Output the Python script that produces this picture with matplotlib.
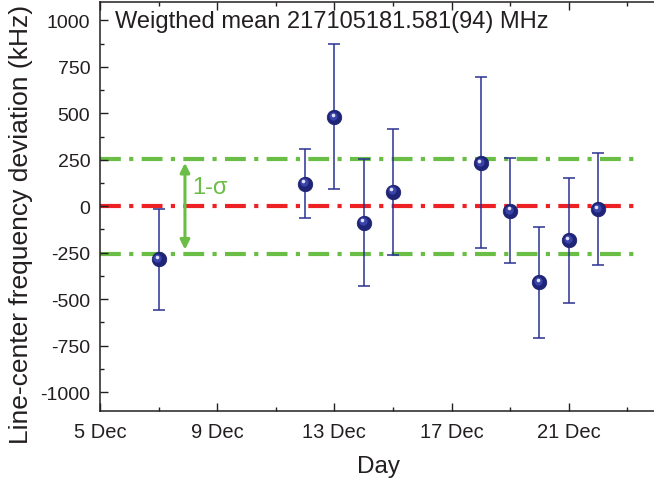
import matplotlib
matplotlib.use('Agg')
import matplotlib.pyplot as plt
from matplotlib.transforms import offset_copy

plt.rcParams['font.family'] = ['Liberation Sans', 'DejaVu Sans']
plt.rcParams['axes.unicode_minus'] = False

# measurement days (December) and deviation from weighted mean (kHz)
days = [7, 12, 13, 14, 15, 18, 19, 20, 21, 22]
deviation = [-285, 122, 481, -88, 79, 233, -24, -410, -183, -14]
uncertainty = [272, 188, 390, 340, 339, 460, 281, 300, 336, 302]

mean_value = 0
sigma = 256

major_days = [5, 9, 13, 17, 21]
major_labels = ['5 Dec', '9 Dec', '13 Dec', '17 Dec', '21 Dec']
minor_days = [7, 11, 15, 19, 23]
y_ticks = [-1000, -750, -500, -250, 0, 250, 500, 750, 1000]

title_text = 'Weigthed mean 217105181.581(94) MHz'

navy = '#2b3192'
green = '#6abd45'
red = '#ed2024'
ink = '#231f20'

fig = plt.figure(figsize=(6.54, 4.85), dpi=100)
ax = fig.add_axes([0.1529, 0.1511, 0.8512, 0.8433])

# reference lines
ax.axhline(mean_value + sigma, xmin=0, xmax=0.97, color=green, lw=3,
           dashes=(5, 2, 1, 2), zorder=1)
ax.axhline(mean_value - sigma, xmin=0, xmax=0.97, color=green, lw=3,
           dashes=(5, 2, 1, 2), zorder=1)
ax.axhline(mean_value, xmin=0, xmax=0.97, color=red, lw=3,
           dashes=(5, 2, 1, 2), zorder=1)

# data with error bars
ax.errorbar(days, deviation, yerr=uncertainty, fmt='none', ecolor=navy,
            elinewidth=1.1, capsize=4.5, capthick=1.1, zorder=2)
ax.plot(days, deviation, 'o', ms=10.5, color='#1e2478', mec='#1a1f6a',
        mew=0.5, zorder=3)
ax.plot(days, deviation, 'o', ms=6, color='#3a43a8', mec='none', zorder=4,
        transform=offset_copy(ax.transData, fig, x=-0.8, y=0.8, units='points'))
ax.plot(days, deviation, 'o', ms=2.6, color='#dfe1f5', mec='none', zorder=5,
        transform=offset_copy(ax.transData, fig, x=-1.2, y=1.6, units='points'))

# 1-sigma arrow
ax.annotate('', xy=(7.9, mean_value - sigma), xytext=(7.9, mean_value + sigma),
            arrowprops=dict(arrowstyle='<|-|>', color=green, lw=2.2,
                            mutation_scale=14, shrinkA=3, shrinkB=3))
ax.text(8.15, (mean_value + sigma) * 0.4, '1-\u03c3', color=green,
        fontsize=17, va='center', ha='left')

ax.set_xlim(5, 24)
ax.set_ylim(-1100, 1100)
ax.set_xticks(major_days)
ax.set_xticklabels(major_labels)
ax.set_xticks(minor_days, minor=True)
ax.set_yticks(y_ticks)
ax.set_yticks([v + 125 for v in y_ticks[:-1]], minor=True)

ax.tick_params(which='both', direction='in', top=True, right=False,
               width=1, colors=ink)
ax.tick_params(axis='x', which='major', length=6, pad=8, labelsize=14.5)
ax.tick_params(axis='y', which='major', length=6, pad=7, labelsize=14)
ax.tick_params(which='minor', length=3)
for side in ['left', 'bottom', 'top']:
    ax.spines[side].set_linewidth(1.1)
    ax.spines[side].set_color(ink)
ax.spines['right'].set_visible(False)

ax.set_xlabel('Day', fontsize=17.5, color=ink, labelpad=10)
ax.set_ylabel('Line-center frequency deviation (kHz)', fontsize=19, color=ink)
ax.yaxis.set_label_coords(-0.12, 0.459)

fig.text(0.176, 0.9416, title_text, fontsize=17, color=ink,
         va='baseline', ha='left')

fig.savefig('out.png', dpi=100)
